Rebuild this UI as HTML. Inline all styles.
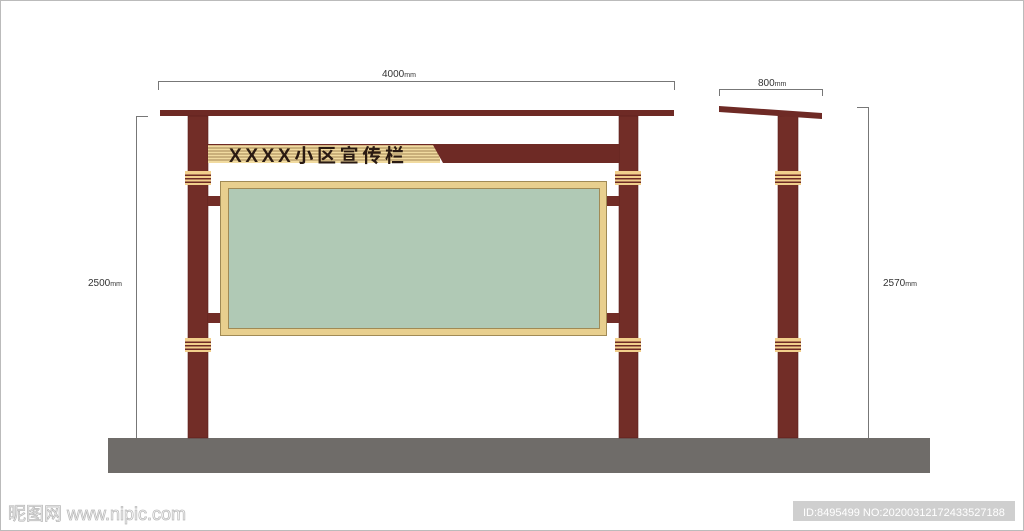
<!DOCTYPE html>
<html><head><meta charset="utf-8"><style>
html,body{margin:0;padding:0;background:#fff;}
svg{display:block;}
text{font-family:"Liberation Sans","Noto Sans CJK SC",sans-serif;}
</style></head><body>
<svg width="1024" height="531" viewBox="0 0 1024 531" xmlns="http://www.w3.org/2000/svg">
<defs>
<g id="b">
<rect x="0" y="0" width="26" height="14" fill="#f1cf8c"/>
<rect x="0" y="3.5" width="26" height="1.5" fill="#6e2a25"/>
<rect x="0" y="7" width="26" height="1.5" fill="#6e2a25"/>
<rect x="0" y="10.5" width="26" height="1.5" fill="#6e2a25"/>
</g>
</defs>
<rect x="0.5" y="0.5" width="1023" height="530" fill="#fff" stroke="#bbb"/>
<g stroke="#777" stroke-width="1" fill="none">
<path d="M158.5 90 V81.5 H674.5 V90"/>
<path d="M719.5 96 V89.5 H822.5 V96"/>
<path d="M148 116.5 H136.5 V438.5 H148"/>
<path d="M857 107.5 H868.5 V438.5 H857"/>
</g>
<g font-size="10" fill="#333">
<text x="382" y="77">4000<tspan font-size="7">mm</tspan></text>
<text x="758" y="86">800<tspan font-size="7">mm</tspan></text>
<text x="88" y="286">2500<tspan font-size="7">mm</tspan></text>
<text x="883" y="286">2570<tspan font-size="7">mm</tspan></text>
</g>
<rect x="108" y="438" width="822" height="35" fill="#6f6c69"/>
<rect x="160" y="110" width="514" height="6" fill="#6e2a25"/>
<rect x="188" y="116" width="20" height="322" fill="#722d27" stroke="#5a1f1b" stroke-width="0.6"/>
<rect x="619" y="116" width="19" height="322" fill="#722d27" stroke="#5a1f1b" stroke-width="0.6"/>
<rect x="778" y="116" width="20" height="322" fill="#722d27" stroke="#5a1f1b" stroke-width="0.6"/>
<polygon points="719,106 822,113 822,119 719,112" fill="#6e2a25"/>
<rect x="208" y="145" width="232" height="18" fill="#f1dba0"/>
<g stroke="#8a6a3a" stroke-width="0.8">
<line x1="208" y1="148" x2="436" y2="148"/><line x1="208" y1="151" x2="437" y2="151"/>
<line x1="208" y1="154" x2="438" y2="154"/><line x1="208" y1="157" x2="439" y2="157"/>
<line x1="208" y1="160" x2="440" y2="160"/>
</g>
<polygon points="433,145 619,145 619,163 443,163" fill="#6e2a25"/>
<rect x="208" y="144" width="411" height="1.2" fill="#6e2a25"/>
<text x="229" y="162" font-size="19" font-weight="bold" fill="#2a1a12" textLength="175" lengthAdjust="spacing">XXXX小区宣传栏</text>
<g fill="#722d27">
<rect x="208" y="196" width="13" height="10"/><rect x="208" y="313" width="13" height="10"/>
<rect x="606" y="196" width="13" height="10"/><rect x="606" y="313" width="13" height="10"/>
</g>
<rect x="220.5" y="181.5" width="386" height="154" fill="#e8cf8e" stroke="#a08a55"/>
<rect x="228.5" y="188.5" width="371" height="140" fill="#b0c9b5" stroke="#a08a55"/>
<use href="#b" x="185" y="171"/><use href="#b" x="185" y="338"/>
<use href="#b" x="615" y="171"/><use href="#b" x="615" y="338"/>
<use href="#b" x="775" y="171"/><use href="#b" x="775" y="338"/>
<text x="8" y="520" font-size="18" fill="#fff" stroke="#bbb" stroke-width="0.8">昵图网 www.nipic.com</text>
<rect x="793" y="501" width="222" height="20" fill="#cfcfcf"/>
<text x="803" y="516" font-size="11" fill="#fff">ID:8495499 NO:20200312172433527188</text>
</svg>
</body></html>
